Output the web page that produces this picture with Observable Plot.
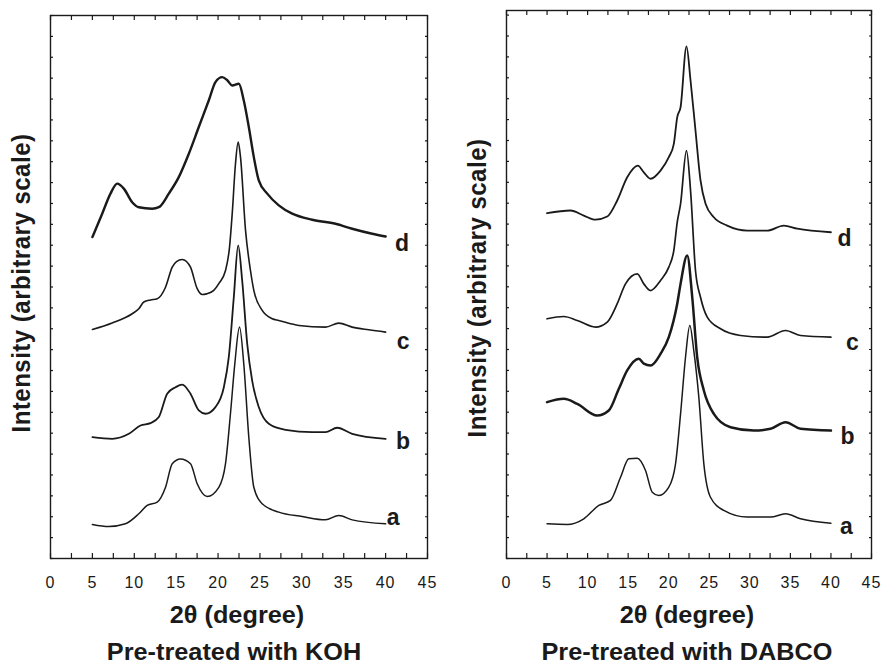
<!DOCTYPE html>
<html>
<head>
<meta charset="utf-8">
<script src="https://cdn.jsdelivr.net/npm/d3@7"></script>
<script src="https://cdn.jsdelivr.net/npm/@observablehq/plot@0.6"></script>
<style>
  html, body { margin: 0; padding: 0; background: #fff; }
  #chart { position: relative; width: 884px; height: 666px; overflow: hidden; background: #fff;
           font-family: "Liberation Sans", Arial, Helvetica, sans-serif; color: #1a1a1a; }
  .lab { position: absolute; white-space: nowrap; font-weight: bold; line-height: 1; }
</style>
</head>
<body>
<div id="chart"></div>
<script>
// ---------- Data (2θ in degrees, intensity in arbitrary, offset units) ----------
// Left panel: pre-treated with KOH
const kohA_x = [5.0, 6.96, 8.95, 10.54, 11.54, 12.74, 13.73, 14.53, 15.52, 16.71, 17.51, 18.70, 20.09, 20.89, 21.48, 22.00, 22.56, 23.07, 23.67, 24.27, 25.27, 27.25, 30.04, 32.82, 34.41, 36.01, 40.0];
const kohA_y = [1.63, 1.53, 1.66, 2.14, 2.54, 2.70, 3.41, 4.54, 4.77, 4.54, 3.58, 2.97, 3.41, 4.54, 6.93, 9.32, 11.08, 9.32, 5.81, 3.41, 2.62, 2.22, 2.01, 1.85, 2.06, 1.85, 1.66];
const kohB_x = [5.0, 7.36, 9.35, 10.74, 11.94, 12.93, 13.93, 14.92, 15.72, 16.71, 17.70, 18.50, 19.69, 20.69, 21.28, 21.88, 22.40, 22.88, 23.48, 24.07, 24.86, 26.06, 28.05, 31.24, 32.82, 34.22, 36.01, 40.0];
const kohB_y = [5.81, 5.73, 5.97, 6.37, 6.48, 6.77, 7.89, 8.20, 8.33, 7.89, 7.09, 6.93, 7.25, 8.20, 9.64, 12.51, 14.99, 13.31, 10.28, 8.52, 7.25, 6.45, 6.16, 6.05, 6.05, 6.26, 5.97, 5.73];
const kohC_x = [5.0, 7.36, 9.75, 10.54, 11.14, 11.94, 12.74, 13.73, 14.53, 15.04, 15.72, 16.23, 16.71, 17.51, 18.11, 18.62, 19.49, 20.09, 20.89, 21.37, 21.69, 22.08, 22.40, 22.68, 23.28, 23.87, 24.27, 25.27, 26.46, 27.25, 29.64, 32.82, 34.41, 36.01, 37.99, 40.0];
const kohC_y = [10.97, 11.28, 11.72, 11.96, 12.28, 12.38, 12.44, 12.99, 13.95, 14.22, 14.32, 14.22, 13.95, 12.92, 12.64, 12.67, 12.84, 13.16, 13.79, 14.91, 16.51, 18.90, 19.94, 19.22, 15.71, 13.79, 12.84, 11.88, 11.48, 11.40, 11.16, 11.08, 11.27, 11.08, 10.95, 10.84];
const kohD_x = [5.0, 6.17, 7.16, 7.96, 8.75, 9.75, 10.54, 12.14, 12.93, 14.12, 15.31, 16.51, 17.70, 18.89, 19.69, 20.49, 21.10, 21.69, 22.48, 23.07, 23.67, 24.27, 24.86, 25.87, 27.25, 28.85, 31.24, 34.02, 36.01, 38.40, 40.0];
const kohD_y = [15.39, 16.51, 17.47, 17.95, 17.71, 17.06, 16.82, 16.75, 16.82, 17.47, 18.26, 19.38, 20.66, 21.93, 22.81, 23.05, 22.90, 22.65, 22.73, 21.93, 20.66, 19.22, 18.10, 17.47, 16.91, 16.51, 16.22, 16.03, 15.79, 15.55, 15.42];

// Right panel: pre-treated with DABCO
const dabA_x = [5.0, 7.48, 9.53, 11.38, 12.82, 14.06, 15.08, 16.12, 17.14, 17.97, 18.78, 20.01, 20.84, 21.46, 22.07, 22.60, 23.09, 23.71, 24.33, 25.15, 26.79, 29.68, 32.55, 34.40, 36.25, 40.0];
const dabA_y = [1.66, 1.63, 1.90, 2.54, 2.78, 3.89, 4.77, 4.80, 4.21, 3.17, 3.01, 3.41, 4.53, 6.92, 9.63, 11.15, 9.95, 7.72, 4.53, 2.93, 2.30, 1.98, 1.98, 2.14, 1.90, 1.69];
const dabB_x = [5.0, 7.07, 8.72, 11.18, 12.61, 13.85, 14.88, 16.31, 16.93, 17.76, 18.99, 20.01, 21.05, 21.46, 22.28, 22.90, 23.51, 24.33, 25.56, 27.62, 30.49, 32.55, 34.40, 36.25, 40.0];
const dabB_y = [7.48, 7.64, 7.40, 6.84, 7.08, 8.12, 9.00, 9.56, 9.32, 9.23, 9.79, 10.59, 12.19, 13.14, 14.50, 12.50, 9.63, 8.04, 6.92, 6.28, 6.12, 6.21, 6.52, 6.21, 6.12];
const dabC_x = [5.0, 7.07, 8.72, 10.97, 12.42, 13.65, 14.67, 16.12, 16.93, 17.76, 18.99, 20.01, 20.63, 21.05, 21.46, 22.19, 22.69, 23.30, 23.92, 24.75, 26.39, 28.85, 32.15, 34.40, 36.25, 40.0];
const dabC_y = [11.47, 11.58, 11.39, 11.07, 11.31, 12.19, 13.14, 13.62, 13.14, 12.82, 13.30, 13.94, 14.74, 16.09, 16.97, 19.52, 17.61, 13.78, 12.50, 11.55, 10.99, 10.67, 10.59, 10.91, 10.67, 10.59];
const dabD_x = [5.0, 7.89, 9.53, 10.97, 12.42, 13.65, 14.88, 16.19, 16.93, 17.76, 18.99, 20.01, 20.63, 21.05, 21.46, 22.19, 22.69, 23.30, 23.92, 24.54, 25.56, 27.21, 29.68, 32.15, 34.19, 35.84, 40.0];
const dabD_y = [16.52, 16.65, 16.41, 16.21, 16.36, 17.13, 18.24, 18.80, 18.48, 18.17, 18.56, 19.20, 19.84, 21.12, 21.59, 24.50, 22.87, 20.48, 18.09, 16.97, 16.33, 15.93, 15.69, 15.69, 15.93, 15.78, 15.61];

const seriesNames = ["a", "b", "c", "d"];
const xTickLabels = [0, 5, 10, 15, 20, 25, 30, 35, 40, 45];
const xTickMarks = d3.range(0, 45.01, 2.5);
const yTickMarks = d3.range(0, 27, 1);

const xLabel = "2θ (degree)";
const yLabel = "Intensity (arbitrary scale)";
const captions = ["Pre-treated with KOH", "Pre-treated with DABCO"];

// ---------- Build ----------
const FONT = '"Liberation Sans", Arial, Helvetica, sans-serif';
const INK = "#1a1a1a";

function toRows(xs, ys, name) { return xs.map((x, i) => ({x, y: ys[i], s: name})); }

function panel({series, widths, offsets, width, height, mL, mR, mT, mB, yMax}) {
  const fw = width - mL - mR, fh = height - mT - mB;
  const marks = [];
  series.forEach((rows, i) => {
    marks.push(Plot.line(rows, {x: "x", y: "y", curve: "monotone-x", stroke: INK, strokeWidth: widths[i], strokeLinejoin: "round"}));
    const last = rows[rows.length - 1];
    marks.push(Plot.text([last], {x: "x", y: "y", text: d => d.s, dx: offsets[i][0], dy: offsets[i][1],
      fontSize: 23, fontWeight: "bold", fill: INK, fontFamily: FONT}));
  });
  return Plot.plot({
    width, height, marginLeft: mL, marginRight: mR, marginTop: mT, marginBottom: mB,
    x: {domain: [0, 45]},
    y: {domain: [0, yMax], axis: null},
    style: {fontFamily: FONT, fontSize: "16px", color: INK, background: "transparent", overflow: "visible"},
    marks: [
      Plot.ruleX(xTickMarks, {x: d => d, insetTop: fh - 5, stroke: INK, strokeWidth: 1.2}),
      Plot.ruleX(xTickMarks, {x: d => d, insetBottom: fh - 5, stroke: INK, strokeWidth: 1.2}),
      Plot.ruleY(yTickMarks, {y: d => d, insetRight: fw - 3, stroke: INK, strokeWidth: 1.2}),
      Plot.ruleY(yTickMarks, {y: d => d, insetLeft: fw - 2, stroke: INK, strokeWidth: 1.2}),
      Plot.axisX(xTickLabels, {anchor: "bottom", tickSize: 0, tickPadding: 18, label: null, fontSize: 16, fill: INK, tickFormat: d => String(d)}),
      ...marks,
      Plot.frame({stroke: INK, strokeWidth: 1.4})
    ]
  });
}

const chart = document.getElementById("chart");

const left = panel({
  series: [toRows(kohA_x, kohA_y, seriesNames[0]), toRows(kohB_x, kohB_y, seriesNames[1]),
           toRows(kohC_x, kohC_y, seriesNames[2]), toRows(kohD_x, kohD_y, seriesNames[3])],
  widths: [1.5, 1.8, 1.6, 2.4],
  offsets: [[8, -6], [18, 3], [18, 10], [17, 7]],
  width: 440, height: 600, mL: 50, mR: 13, mT: 15, mB: 42, yMax: 26
});
const right = panel({
  series: [toRows(dabA_x, dabA_y, seriesNames[0]), toRows(dabB_x, dabB_y, seriesNames[1]),
           toRows(dabC_x, dabC_y, seriesNames[2]), toRows(dabD_x, dabD_y, seriesNames[3])],
  widths: [1.5, 2.5, 1.7, 1.8],
  offsets: [[16, 3], [17, 6], [22, 5], [14, 6]],
  width: 444, height: 600, mL: 66, mR: 13, mT: 10, mB: 42, yMax: 548 / 20.9
});

for (const [svg, lx] of [[left, 0], [right, 440]]) {
  svg.style.position = "absolute";
  svg.style.left = lx + "px";
  svg.style.top = "0px";
  svg.setAttribute("letter-spacing", "1px");
  chart.appendChild(svg);
}

function addLabel(text, cx, top, size, extra) {
  const d = document.createElement("div");
  d.className = "lab";
  d.textContent = text;
  d.style.left = cx + "px";
  d.style.top = top + "px";
  d.style.fontSize = size + "px";
  d.style.transform = extra;
  chart.appendChild(d);
  return d;
}

// x-axis titles (baseline ≈ 623)
addLabel(xLabel, 237, 623 - 0.8465 * 23, 23, "translateX(-50%) scaleX(1.1)");
addLabel(xLabel, 687, 623 - 0.8465 * 23, 23, "translateX(-50%) scaleX(1.1)");
// captions (baseline ≈ 660, kept inside the picture)
addLabel(captions[0], 234, 660 - 0.8465 * 23, 23, "translateX(-50%) scaleX(1.1)");
addLabel(captions[1], 687, 660 - 0.8465 * 23, 23, "translateX(-50%) scaleX(1.1)");
// y-axis titles (rotated)
const yl1 = addLabel(yLabel, 21, 283 - 12, 24, "translate(-50%, 0) rotate(-90deg) scaleY(1.1)");
const yl2 = addLabel(yLabel, 477, 288 - 12, 24, "translate(-50%, 0) rotate(-90deg) scaleY(1.1)");
for (const el of [yl1, yl2]) { el.style.letterSpacing = "0.5px"; el.style.height = "24px"; }
</script>
</body>
</html>
